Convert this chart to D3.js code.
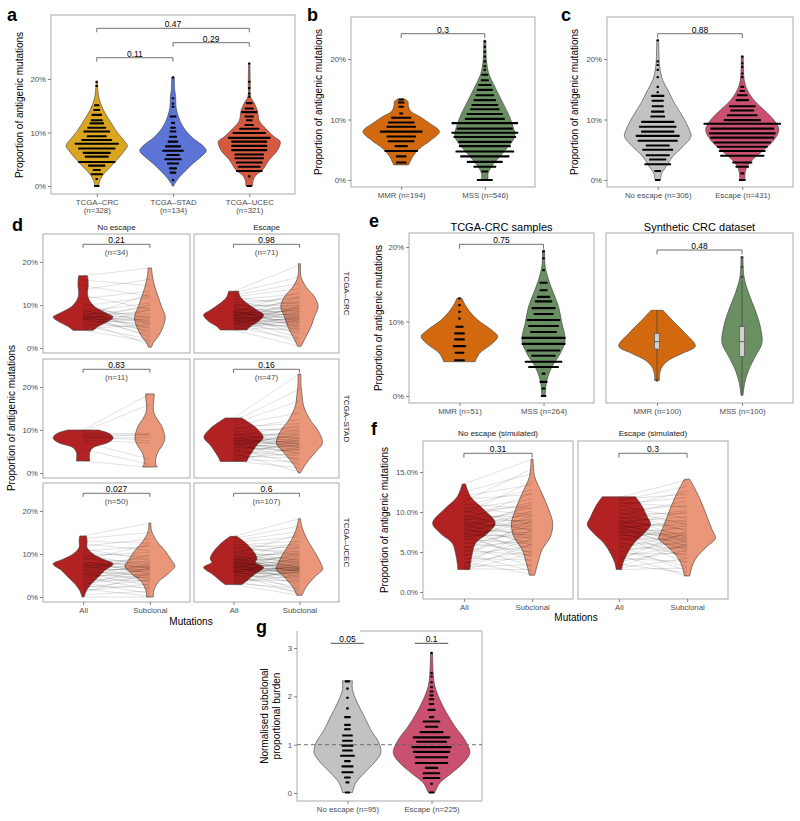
<!DOCTYPE html>
<html><head><meta charset="utf-8">
<script src="https://cdn.jsdelivr.net/npm/d3@7"></script>
<style>body{margin:0;background:#fff}</style>
</head><body><svg id="c" width="800" height="821"></svg>
<script>
// ================= DATA =================
// Panel a
const aCats = ["TCGA–CRC","TCGA–STAD","TCGA–UCEC"];
const aN = [328,134,321];
const aViolinCRC = [[19.4,0.02],[17.5,0.04],[16.1,0.08],[14.2,0.20],[12.3,0.38],[10.0,0.62],[8.5,0.82],[7.5,0.92],[6.5,0.82],[5.0,0.62],[3.5,0.40],[2.0,0.18],[0.8,0.08],[0,0.06]];
const aViolinSTAD = [[20.3,0.04],[18,0.05],[16.7,0.08],[14.8,0.09],[13.0,0.16],[11.1,0.30],[9.2,0.55],[7.4,0.92],[6.6,1.0],[5.5,0.85],[4.2,0.60],[3.0,0.40],[1.5,0.17],[0.4,0.05],[0,0.02]];
const aViolinUCEC = [[22.9,0.02],[19.2,0.03],[16.7,0.04],[15.5,0.15],[14.0,0.25],[12.2,0.30],[10.7,0.50],[9.2,0.75],[8.3,0.93],[6.7,0.85],[4.9,0.60],[3.0,0.40],[2.0,0.20],[1.1,0.12],[0,0.10]];
const aDotsCRC = [[19.5,1],[18.7,1],[15.1,4],[14.2,5],[13.3,8],[12.3,9],[11.7,11],[10.9,14],[10.2,20],[9.3,15],[8.6,23],[7.9,33],[7.0,28],[6.2,21],[5.5,18],[4.5,28],[3.8,13],[3.0,6],[2.2,9],[1.3,1],[0,4]];
const aDotsSTAD = [[20.3,1],[16.4,1],[15.4,1],[14.8,1],[13.0,5],[11.8,3],[10.9,4],[10.2,5],[9.2,6],[8.3,8],[7.4,12],[6.6,16],[5.8,10],[5.0,13],[4.2,9],[3.3,6],[2.5,5],[1.1,1]];
const aDotsUCEC = [[22.9,1],[19.5,1],[18.3,1],[17.3,1],[16.7,1],[15.5,5],[14.5,7],[13.8,12],[13.0,7],[12.3,5],[11.4,7],[10.7,15],[9.9,25],[9.0,32],[8.3,27],[7.5,27],[6.7,27],[5.9,22],[5.2,22],[4.4,20],[3.6,17],[2.8,20],[1.8,2],[0,4]];
const aPvals = [["TCGA–CRC","TCGA–UCEC","0.47"],["TCGA–STAD","TCGA–UCEC","0.29"],["TCGA–CRC","TCGA–STAD","0.11"]];
const pctTicks = [0,10,20];

// Panel b
const bCats = ["MMR","MSS"];
const bN = [194,546];
const bViolinMMR = [[13.4,0.10],[13.0,0.20],[12.1,0.22],[11.3,0.30],[10.5,0.55],[9.4,0.85],[8.0,1.15],[6.6,0.90],[5.2,0.55],[3.9,0.35],[2.8,0.25],[2.5,0.22]];
const bViolinMSS = [[23.1,0.03],[19.8,0.05],[17.6,0.12],[15.4,0.30],[13.2,0.50],[11.0,0.70],[8.8,0.85],[7.2,0.90],[5.5,0.70],[3.9,0.45],[2.2,0.20],[1.1,0.10],[0,0.10]];
const bDotsMMR = [[13.3,4],[12.8,5],[12.1,4],[11.0,3],[10.3,15],[9.5,20],[8.8,22],[8.0,32],[7.2,22],[6.4,20],[5.6,10],[4.8,25],[3.9,8],[2.9,8]];
const bDotsMSS = [[22.9,1],[22.0,1],[21.2,1],[20.4,1],[19.6,2],[18.8,2],[18.2,2],[17.4,5],[16.5,6],[15.7,10],[14.9,12],[14.0,14],[13.2,17],[12.4,20],[11.7,22],[10.9,27],[10.1,30],[9.4,50],[8.5,42],[7.8,50],[7.1,47],[6.3,40],[5.6,39],[4.7,44],[3.9,37],[3.0,27],[2.2,17],[1.4,5],[0,12]];
const bPval = "0.3";

// Panel c
const cCats = ["No escape","Escape"];
const cN = [306,431];
const cViolinNo = [[23.1,0.03],[18.7,0.06],[16.5,0.15],[14.9,0.30],[12.7,0.50],[10.5,0.75],[8.3,0.95],[7.2,1.00],[5.5,0.75],[3.9,0.45],[2.2,0.25],[1.1,0.12],[0,0.08]];
const cViolinEsc = [[20.5,0.03],[16.5,0.06],[14.9,0.15],[13.2,0.35],[11.6,0.65],[9.9,0.95],[8.3,1.10],[6.6,0.95],[5.0,0.65],[3.3,0.30],[1.9,0.12],[0.8,0.08],[0,0.08]];
const cDotsNo = [[23.1,1],[19.6,1],[19.0,1],[18.2,1],[17.0,1],[15.4,1],[14.5,1],[13.9,10],[13.1,9],[12.2,9],[11.3,10],[10.5,11],[9.6,25],[8.8,28],[8.0,25],[7.3,33],[6.5,30],[5.7,18],[5.0,23],[4.1,18],[3.4,13],[2.6,20],[1.5,5],[0,4]];
const cDotsEsc = [[20.4,1],[19.3,1],[18.7,1],[17.6,1],[17.0,1],[15.4,3],[14.7,4],[14.0,8],[13.2,10],[12.2,20],[11.5,18],[10.7,23],[9.9,28],[9.3,58],[8.5,48],[7.7,50],[7.0,48],[6.2,43],[5.5,38],[4.8,35],[4.0,33],[2.9,15],[2.2,10],[1.1,3],[0,5]];
const cPval = "0.88";

// Panel d (rows: cancer type, cols: escape status)
const dCols = ["No escape","Escape"];
const dRows = ["TCGA–CRC","TCGA–STAD","TCGA–UCEC"];
const dCats = ["All","Subclonal"];
const dPvals = [["0.21","0.98"],["0.83","0.16"],["0.027","0.6"]];
const dNs = [[34,71],[11,47],[50,107]];
const dViolinAll11 = [[16.8,0.13],[15.8,0.15],[14.2,0.15],[12.7,0.13],[11.2,0.18],[9.6,0.35],[8.1,0.70],[7.2,0.90],[6.2,0.75],[5.0,0.45],[4.1,0.30]];
const dViolinSub11 = [[18.6,0.05],[16.5,0.08],[14.2,0.15],[11.9,0.25],[9.6,0.35],[7.3,0.46],[5.0,0.40],[2.7,0.25],[1.2,0.10],[0.2,0.05]];
const dViolinAll12 = [[13.2,0.15],[11.9,0.20],[10.4,0.40],[8.8,0.70],[7.7,0.90],[6.2,0.75],[5.0,0.50],[4.2,0.40]];
const dViolinSub12 = [[19.6,0.03],[16.5,0.05],[14.2,0.20],[11.9,0.45],[9.6,0.56],[7.3,0.45],[5.0,0.35],[2.7,0.20],[0.4,0.05]];
const dViolinAll21 = [[10.0,0.45],[9.1,0.80],[8.1,0.90],[7.1,0.75],[5.9,0.30],[4.8,0.20],[2.8,0.20]];
const dViolinSub21 = [[18.4,0.13],[17.0,0.12],[15.5,0.10],[14,0.12],[12.5,0.22],[11,0.35],[9.5,0.42],[8.0,0.45],[6.5,0.38],[5.0,0.25],[3.5,0.18],[2.0,0.18],[1.4,0.22]];
const dViolinAll22 = [[12.8,0.25],[11.8,0.45],[10.2,0.72],[8.3,0.89],[6.5,0.70],[5.2,0.58],[3.6,0.45],[2.7,0.40]];
const dViolinSub22 = [[23.0,0.04],[20.0,0.05],[18.0,0.08],[16.5,0.10],[15.0,0.15],[12.0,0.35],[10.0,0.55],[7.0,0.69],[5.0,0.50],[3.0,0.28],[1.0,0.10],[0,0.03]];
const dViolinAll31 = [[14.2,0.10],[13.1,0.12],[11.5,0.12],[10.0,0.30],[8.8,0.60],[7.7,0.90],[6.2,0.65],[4.6,0.45],[3.1,0.25],[1.5,0.10],[0,0.03]];
const dViolinSub31 = [[17.2,0.03],[15.4,0.05],[13.1,0.20],[10.8,0.45],[8.5,0.65],[7.2,0.75],[5.4,0.55],[3.5,0.25],[1.5,0.12],[0,0.10]];
const dViolinAll32 = [[14.1,0.10],[12.3,0.40],[10.0,0.65],[8.8,0.70],[8.1,0.65],[6.9,0.90],[5.4,0.65],[3.8,0.40],[2.9,0.25]];
const dViolinSub32 = [[18.2,0.03],[16.2,0.08],[13.1,0.25],[10.0,0.50],[7.7,0.65],[6.5,0.70],[4.6,0.45],[2.3,0.20],[0.4,0.08]];
const dPairs11 = [[16.8,18.6],[15.8,14.5],[14.5,12.0],[13.5,16.0],[12.3,9.0],[11.5,13.2],[10.4,5.5],[9.8,11.8],[9.4,7.0],[9.0,3.5],[8.7,6.2],[8.4,10.5],[8.2,4.5],[8.0,8.0],[7.8,2.5],[7.6,9.5],[7.5,6.0],[7.3,12.5],[7.2,5.0],[7.1,7.5],[7.0,3.0],[6.9,8.8],[6.8,6.5],[6.7,4.0],[6.6,10.0],[6.5,7.2],[6.3,5.8],[6.1,0.8],[5.8,6.8],[5.5,4.8],[5.2,2.0],[4.8,9.0],[4.4,5.5],[4.1,1.5]];
const dPairs12 = [[13.2,19.3],[12.8,16.5],[12.3,15.0],[11.9,13.8],[11.6,10.2],[11.2,12.6],[10.9,8.4],[10.6,11.5],[10.3,7.0],[10.0,9.8],[9.8,12.0],[9.6,6.2],[9.4,10.6],[9.2,8.0],[9.0,4.8],[8.8,9.2],[8.7,11.0],[8.5,7.5],[8.4,5.6],[8.3,13.0],[8.2,8.6],[8.1,6.8],[8.0,10.0],[7.9,3.2],[7.8,7.8],[7.7,9.5],[7.6,6.0],[7.5,8.9],[7.4,5.2],[7.3,11.8],[7.2,7.2],[7.1,4.2],[7.0,9.0],[6.9,6.5],[6.8,2.4],[6.7,8.2],[6.6,10.8],[6.5,5.8],[6.4,7.6],[6.3,4.6],[6.2,9.4],[6.1,6.8],[6.0,1.2],[5.9,5.0],[5.8,8.4],[5.6,7.0],[5.5,3.8],[5.3,6.2],[5.2,9.8],[5.0,5.4],[4.9,2.0],[4.7,7.4],[4.5,4.4],[4.4,6.6],[4.2,0.4]];
const dPairs21 = [[10.0,18.4],[9.6,16.0],[9.2,9.2],[8.9,8.8],[8.6,7.5],[8.3,9.0],[8.0,8.3],[7.6,7.0],[7.2,3.2],[5.5,2.0],[2.8,1.3]];
const dPairs22 = [[12.8,23.0],[12.0,19.5],[11.5,16.8],[11.1,14.0],[10.7,11.5],[10.4,9.8],[10.1,12.5],[9.8,8.0],[9.5,10.6],[9.2,6.5],[9.0,9.0],[8.8,7.4],[8.6,11.0],[8.4,5.8],[8.2,8.4],[8.0,7.0],[7.9,9.6],[7.8,6.2],[7.6,4.4],[7.5,8.0],[7.4,7.2],[7.2,10.2],[7.1,5.4],[7.0,6.8],[6.9,3.0],[6.8,8.8],[6.6,6.0],[6.5,7.6],[6.3,4.8],[6.2,9.2],[6.0,5.2],[5.8,7.0],[5.6,2.0],[5.4,6.4],[5.2,8.2],[5.0,4.0],[4.8,6.6],[4.6,0.2],[4.3,5.6],[4.0,3.4],[3.7,7.8],[3.4,4.6],[3.1,2.6],[2.9,6.0],[2.8,1.2]];
const dPairs31 = [[14.2,17.2],[13.6,15.0],[13.0,12.5],[12.4,10.8],[11.8,13.5],[11.2,8.6],[10.7,11.8],[10.2,9.4],[9.8,7.2],[9.5,10.4],[9.2,6.6],[8.9,8.0],[8.6,12.2],[8.3,5.4],[8.0,7.0],[7.8,9.0],[7.6,6.2],[7.5,7.8],[7.4,4.2],[7.3,6.8],[7.2,8.4],[7.0,5.8],[6.8,7.2],[6.6,3.4],[6.4,6.4],[6.2,9.8],[6.0,5.0],[5.8,7.0],[5.6,2.6],[5.4,6.0],[5.2,4.4],[5.0,7.6],[4.8,5.4],[4.6,1.8],[4.3,6.6],[4.0,3.8],[3.7,5.2],[3.4,0.8],[3.1,4.8],[2.8,6.8],[2.5,2.2],[2.2,4.0],[1.9,0.2],[1.5,3.0],[1.0,5.6],[0.5,1.4],[0.0,0.0]];
const dPairs32 = [[14.1,18.2],[13.6,16.5],[13.1,15.2],[12.7,14.0],[12.3,11.2],[12.0,13.0],[11.7,9.8],[11.4,12.2],[11.1,10.6],[10.8,8.4],[10.6,11.8],[10.4,7.6],[10.2,9.6],[10.0,14.6],[9.8,6.8],[9.6,10.2],[9.5,8.0],[9.3,5.6],[9.2,9.0],[9.0,7.2],[8.9,12.8],[8.8,6.4],[8.7,8.6],[8.6,10.8],[8.5,4.6],[8.4,7.0],[8.3,9.4],[8.2,6.0],[8.1,11.6],[8.0,6.8],[7.9,3.6],[7.8,8.2],[7.7,6.6],[7.6,9.8],[7.5,5.2],[7.4,7.4],[7.3,2.8],[7.2,6.2],[7.1,8.8],[7.0,6.4],[6.9,4.2],[6.8,7.8],[6.7,6.0],[6.6,10.4],[6.5,5.6],[6.4,1.6],[6.3,6.8],[6.2,7.0],[6.1,4.8],[6.0,8.4],[5.9,6.2],[5.8,3.2],[5.7,6.6],[5.6,9.2],[5.5,5.4],[5.3,0.8],[5.2,7.2],[5.0,4.4],[4.8,6.4],[4.6,2.4],[4.4,5.8],[4.2,8.0],[4.0,3.8],[3.8,6.0],[3.6,1.2],[3.4,5.0],[3.2,2.0],[3.0,6.6],[2.9,0.4]];

// Panel e
const eFacets = ["TCGA-CRC samples","Synthetic CRC dataset"];
const eCats = ["MMR","MSS"];
const eLabels = [["MMR (n=51)","MSS (n=264)"],["MMR (n=100)","MSS  (n=100)"]];
const ePvals = ["0.75","0.48"];
const eViolinMMR1 = [[13.1,0.08],[12.4,0.15],[11.5,0.28],[10.2,0.55],[8.9,0.95],[8.0,1.15],[7.1,1.00],[5.7,0.60],[4.6,0.47]];
const eViolinMSS1 = [[19.6,0.03],[17.4,0.05],[15.6,0.15],[13.8,0.30],[12.0,0.45],[9.8,0.55],[7.5,0.65],[5.7,0.50],[3.9,0.25],[2.1,0.10],[0.1,0.05]];
const eDotsMMR1 = [[13.1,2],[12.2,2],[11.3,2],[10.4,2],[9.3,6],[8.4,8],[7.6,8],[6.7,10],[5.8,7],[4.8,8]];
const eDotsMSS1 = [[19.4,2],[18.5,2],[16.9,2],[15.2,6],[14.2,6],[13.3,10],[12.7,13],[11.8,18],[11.0,15],[10.2,25],[9.4,23],[8.6,20],[7.8,33],[7.0,33],[6.1,25],[5.4,18],[4.6,28],[3.9,23],[3.0,3],[1.9,6],[1.0,3],[0,4]];
const eViolinMMR2 = [[11.5,0.18],[10.2,0.45],[8.4,0.85],[6.7,1.15],[5.7,0.75],[4.8,0.35],[3.9,0.15],[3.0,0.08],[2.1,0.07]];
const eViolinMSS2 = [[18.7,0.03],[16.0,0.06],[13.8,0.20],[11.5,0.40],[9.3,0.55],[7.1,0.60],[5.3,0.40],[3.5,0.20],[1.7,0.08],[0.1,0.03]];
// boxplot stats: [lowWhisker, q1, median, q3, highWhisker]
const eBoxMMR2 = [2.3,6.3,7.3,8.4,11.5];
const eBoxMSS2 = [0.1,5.3,7.3,9.3,15.5];
const eOutMMR2 = [2.1];
const eOutMSS2 = [16.0,17.3,18.6];

// Panel f
const fFacets = ["No escape (simulated)","Escape (simulated)"];
const fCats = ["All","Subclonal"];
const fPvals = ["0.31","0.3"];
const fTicks = [0,5,10,15];
const fViolinAll1 = [[13.5,0.05],[11.9,0.20],[10.3,0.60],[8.6,0.94],[7.3,0.70],[6.1,0.35],[4.8,0.25],[3.6,0.20],[2.8,0.18]];
const fViolinSub1 = [[16.6,0.03],[14.4,0.08],[12.3,0.30],[10.3,0.50],[8.6,0.62],[6.9,0.55],[5.3,0.30],[4.0,0.20],[2.8,0.12],[2.1,0.08]];
const fViolinAll2 = [[11.9,0.50],[10.7,0.70],[9.4,0.85],[8.4,0.95],[7.3,0.75],[6.1,0.45],[4.8,0.25],[3.6,0.12],[2.8,0.08]];
const fViolinSub2 = [[14.1,0.08],[13.2,0.20],[11.5,0.40],[9.4,0.60],[7.8,0.75],[6.7,0.85],[5.7,0.60],[4.4,0.30],[3.2,0.15],[2.0,0.08]];
const fPairs1 = [[13.5,16.6],[12.5,14.8],[12.0,13.4],[11.6,12.2],[11.3,15.4],[11.0,10.4],[10.8,12.8],[10.6,9.6],[10.4,11.6],[10.2,8.4],[10.0,10.8],[9.8,13.8],[9.6,7.6],[9.5,9.4],[9.4,11.2],[9.2,8.8],[9.1,6.6],[9.0,10.0],[8.9,12.4],[8.8,7.8],[8.7,9.0],[8.6,5.8],[8.5,8.2],[8.4,10.6],[8.3,7.0],[8.2,9.8],[8.1,4.8],[8.0,8.6],[7.9,6.2],[7.8,11.0],[7.7,7.4],[7.6,9.2],[7.5,5.4],[7.4,8.0],[7.3,3.8],[7.2,6.8],[7.1,10.2],[7.0,7.2],[6.9,4.4],[6.8,8.8],[6.6,6.0],[6.4,9.6],[6.2,5.0],[6.0,7.6],[5.8,3.2],[5.6,6.4],[5.4,8.4],[5.2,4.6],[5.0,7.0],[4.8,2.6],[4.6,5.8],[4.4,9.0],[4.2,4.0],[4.0,6.6],[3.8,2.2],[3.6,5.2],[3.4,7.8],[3.2,3.4],[3.0,6.0],[2.9,2.8],[2.8,4.8]];
const fPairs2 = [[11.8,14.0],[11.6,12.2],[11.4,13.2],[11.2,10.6],[11.0,11.8],[10.8,9.2],[10.6,12.6],[10.4,8.4],[10.2,10.8],[10.0,7.6],[9.8,9.8],[9.6,11.4],[9.4,6.8],[9.3,8.8],[9.2,10.2],[9.0,6.2],[8.9,7.8],[8.8,9.4],[8.7,5.6],[8.6,8.2],[8.5,10.0],[8.4,6.6],[8.3,7.2],[8.2,5.2],[8.1,8.6],[8.0,6.4],[7.9,9.0],[7.8,5.8],[7.7,7.0],[7.6,4.2],[7.5,6.8],[7.4,8.0],[7.3,5.4],[7.2,6.2],[7.1,3.6],[7.0,7.4],[6.8,5.0],[6.6,6.6],[6.4,8.4],[6.2,4.6],[6.0,6.0],[5.8,2.6],[5.6,7.2],[5.4,5.6],[5.2,3.2],[5.0,6.4],[4.8,4.8],[4.6,2.0],[4.4,5.8],[4.2,3.8],[4.0,7.6],[3.8,5.2],[3.5,2.4],[3.2,6.0],[3.0,4.2],[2.8,3.0]];

// Panel g
const gCats = ["No escape","Escape"];
const gN = [95,225];
const gPvals = ["0.05","0.1"];
const gTicks = [0,1,2,3];
const gViolinNo = [[2.32,0.15],[2.14,0.15],[1.86,0.30],[1.59,0.50],[1.31,0.70],[1.03,0.95],[0.83,1.00],[0.62,0.80],[0.41,0.50],[0.21,0.25],[0.01,0.15]];
const gViolinEsc = [[2.9,0.03],[2.48,0.05],[2.21,0.10],[1.93,0.25],[1.66,0.45],[1.38,0.70],[1.10,1.00],[0.83,1.15],[0.62,0.95],[0.41,0.60],[0.21,0.25],[0.01,0.10]];
const gDotsNo = [[2.31,4],[2.16,2],[1.97,2],[1.75,2],[1.57,5],[1.41,5],[1.32,5],[1.19,8],[1.08,8],[0.98,9],[0.88,8],[0.77,11],[0.66,5],[0.55,9],[0.43,9],[0.32,5],[0.22,3],[0.01,4]];
const gDotsEsc = [[2.9,1],[2.48,1],[2.41,1],[2.29,1],[2.19,2],[2.10,3],[2.02,3],[1.94,4],[1.84,4],[1.72,6],[1.57,4],[1.48,13],[1.37,10],[1.26,18],[1.15,28],[1.06,23],[0.95,30],[0.85,28],[0.74,25],[0.62,25],[0.52,10],[0.41,13],[0.31,13],[0.19,2],[0.01,4]];
const gRef = 1;

// ================= DRAWING =================
const svg = d3.select('#c');
const FONT = "'Liberation Sans', Arial, Helvetica, sans-serif";
const BORDER = '#a9a9a9';
const W = d3.scaleLinear().domain([0,1]).range([0,33.3]);
const DOT = 4/3;
const BAR_H = 2.1;
const COL = {gold:'#DAA520', blue:'#5B74D6', red:'#D65A40', orange:'#D2690F', green:'#6A8F62',
  grey:'#C2C2C2', pink:'#C9506F', dark:'#B22222', salmon:'#EA9678'};
const pct = d => d + '%';

function styleAxis(g, size){
  g.select('.domain').remove();
  g.selectAll('.tick line').attr('stroke','#555').attr('stroke-width',0.7);
  g.selectAll('.tick text').attr('font-family',FONT).attr('font-size',size||7.8).attr('fill','#4d4d4d');
}
function yAxis(sc, x0, ticks, fmt, show){
  const ax = d3.axisLeft(sc).tickValues(ticks).tickSize(3).tickPadding(2).tickFormat(show===false?()=>'':fmt);
  const g = svg.append('g').attr('transform',`translate(${x0},0)`).call(ax);
  styleAxis(g);
  return g;
}
function xAxis(sc, y1, fmt){
  const ax = d3.axisBottom(sc).tickSize(3).tickPadding(2).tickFormat(fmt);
  const g = svg.append('g').attr('transform',`translate(0,${y1})`).call(ax);
  styleAxis(g);
  return g;
}
function frame(x0,y0,x1,y1){
  svg.append('rect').attr('x',x0).attr('y',y0).attr('width',x1-x0).attr('height',y1-y0)
    .attr('fill','none').attr('stroke',BORDER).attr('stroke-width',1);
}
function violin(prof, cx, ys, fill){
  const area = d3.area().curve(d3.curveCatmullRom.alpha(0.5))
    .y(d=>ys(d[0])).x0(d=>cx-W(d[1])).x1(d=>cx+W(d[1]));
  svg.append('path').attr('d',area(prof)).attr('fill',fill).attr('stroke','#3a3a3a').attr('stroke-width',0.6);
}
function dots(bins, cx, ys){
  svg.append('g').selectAll('rect').data(bins).join('rect')
    .attr('x',d=>cx-Math.max(d[1]*DOT,2.4)/2).attr('y',d=>ys(d[0])-BAR_H/2)
    .attr('width',d=>Math.max(d[1]*DOT,2.4)).attr('height',BAR_H).attr('rx',0.6).attr('fill','#000');
}
function pairs(list, xa, xs, ys){
  svg.append('g').selectAll('line').data(list).join('line')
    .attr('x1',xa).attr('x2',xs).attr('y1',d=>ys(d[0])).attr('y2',d=>ys(d[1]))
    .attr('stroke','#000').attr('stroke-opacity',0.2).attr('stroke-width',0.6);
}
function text(x,y,s,opt){
  opt = opt||{};
  const t = svg.append('text').attr('x',x).attr('y',y).text(s)
    .attr('font-family',FONT).attr('font-size',opt.size||8).attr('fill',opt.fill||'#000')
    .attr('text-anchor',opt.anchor||'middle').attr('font-weight',opt.weight||'normal');
  if(opt.rotate!==undefined) t.attr('transform',`rotate(${opt.rotate},${x},${y})`);
  return t;
}
function bracket(x1,x2,y,drop,label,sub){
  svg.append('path').attr('d',`M${x1},${y+drop}V${y}H${x2}V${y+drop}`)
    .attr('fill','none').attr('stroke','#333').attr('stroke-width',0.7);
  text((x1+x2)/2, y-1.2, label, {size:8.5});
  if(sub) text((x1+x2)/2, y+10.5, sub, {size:8, fill:'#4d4d4d'});
}
function ytitle(x,y,s){ text(x,y,s,{size:10,rotate:-90}); }
function panelLetter(x,y,s){ text(x,y,s,{size:18,weight:'bold',anchor:'start'}); }

// ---- Panel a ----
{
  const x = d3.scalePoint().domain(aCats).range([51,295]).padding(0.6);
  const y = d3.scaleLinear().domain([0,20]).range([186,79]);
  frame(51,15,295,194);
  const fills=[COL.gold,COL.blue,COL.red];
  [aViolinCRC,aViolinSTAD,aViolinUCEC].forEach((p,i)=>violin(p,x(aCats[i]),y,fills[i]));
  [aDotsCRC,aDotsSTAD,aDotsUCEC].forEach((p,i)=>dots(p,x(aCats[i]),y));
  const bys=[28.3,42.7,57.7];
  aPvals.forEach((p,i)=>bracket(x(p[0]),x(p[1]),bys[i],4,p[2]));
  yAxis(y,51,pctTicks,pct);
  const g = xAxis(x,194,d=>d);
  g.selectAll('.tick text').each(function(d,i){
    const t=d3.select(this); t.text(null);
    t.append('tspan').attr('x',0).attr('dy','0.71em').text(d);
    t.append('tspan').attr('x',0).attr('dy','1.05em').text(`(n=${aN[i]})`);
  });
  ytitle(23,105,'Proportion of antigenic mutations');
  panelLetter(7,21,'a');
}

// ---- Panel b ----
{
  const x = d3.scalePoint().domain(bCats).range([351,535]).padding(0.6);
  const y = d3.scaleLinear().domain([0,20]).range([180,59]);
  frame(351,17,535,187);
  violin(bViolinMMR,x('MMR'),y,COL.orange);
  violin(bViolinMSS,x('MSS'),y,COL.green);
  dots(bDotsMMR,x('MMR'),y); dots(bDotsMSS,x('MSS'),y);
  bracket(x('MMR'),x('MSS'),33.7,4.5,bPval);
  yAxis(y,351,pctTicks,pct);
  xAxis(x,187,(d,i)=>`${d} (n=${bN[i]})`);
  ytitle(322,102,'Proportion of antigenic mutations');
  panelLetter(307,21,'b');
}

// ---- Panel c ----
{
  const x = d3.scalePoint().domain(cCats).range([607,793]).padding(0.6);
  const y = d3.scaleLinear().domain([0,20]).range([180,59]);
  frame(607,17,793,187);
  violin(cViolinNo,x('No escape'),y,COL.grey);
  violin(cViolinEsc,x('Escape'),y,COL.pink);
  dots(cDotsNo,x('No escape'),y); dots(cDotsEsc,x('Escape'),y);
  bracket(x('No escape'),x('Escape'),33.7,4.5,cPval);
  yAxis(y,607,pctTicks,pct);
  xAxis(x,187,(d,i)=>`${d} (n=${cN[i]})`);
  ytitle(578,102,'Proportion of antigenic mutations');
  panelLetter(561,21,'c');
}

// ---- Panel d ----
{
  const colX = [[43,190],[194,339]];
  const rowTop = [234,359,483];
  const rowH = 119;
  const violinsAll = [[dViolinAll11,dViolinAll12],[dViolinAll21,dViolinAll22],[dViolinAll31,dViolinAll32]];
  const violinsSub = [[dViolinSub11,dViolinSub12],[dViolinSub21,dViolinSub22],[dViolinSub31,dViolinSub32]];
  const pr = [[dPairs11,dPairs12],[dPairs21,dPairs22],[dPairs31,dPairs32]];
  rowTop.forEach((top,r)=>{
    const y = d3.scaleLinear().domain([0,20]).range([top+114,top+28]);
    colX.forEach(([x0,x1],c)=>{
      const x = d3.scalePoint().domain(dCats).range([x0,x1]).padding(0.6);
      frame(x0,top,x1,top+rowH);
      violin(violinsAll[r][c],x('All'),y,COL.dark);
      violin(violinsSub[r][c],x('Subclonal'),y,COL.salmon);
      pairs(pr[r][c],x('All'),x('Subclonal'),y);
      bracket(x('All'),x('Subclonal'),top+10.3,3.5,dPvals[r][c],`(n=${dNs[r][c]})`);
      if(c===0) yAxis(y,x0,pctTicks,pct);
      if(r===2) xAxis(x,top+rowH,d=>d);
    });
    text(347,top+rowH/2,dRows[r],{size:8,fill:'#1a1a1a',rotate:90}).attr('dy','0.35em');
  });
  dCols.forEach((s,c)=>text((colX[c][0]+colX[c][1])/2,229.5,s,{size:8,fill:'#1a1a1a'}));
  text(191,625,'Mutations',{size:10});
  ytitle(15,418,'Proportion of antigenic mutations');
  panelLetter(12,231,'d');
}

// ---- Panel e ----
{
  const colX = [[409,594],[606,793]];
  const y = d3.scaleLinear().domain([0,20]).range([396,247]);
  colX.forEach(([x0,x1],c)=>{
    const x = d3.scalePoint().domain(eCats).range([x0,x1]).padding(0.6);
    frame(x0,233,x1,403);
    text((x0+x1)/2,231,eFacets[c],{size:11});
    if(c===0){
      violin(eViolinMMR1,x('MMR'),y,COL.orange);
      violin(eViolinMSS1,x('MSS'),y,COL.green);
      dots(eDotsMMR1,x('MMR'),y); dots(eDotsMSS1,x('MSS'),y);
      bracket(x('MMR'),x('MSS'),244.3,4.5,ePvals[0]);
      yAxis(y,x0,pctTicks,pct);
    } else {
      violin(eViolinMMR2,x('MMR'),y,COL.orange);
      violin(eViolinMSS2,x('MSS'),y,COL.green);
      [[eBoxMMR2,eOutMMR2,'MMR'],[eBoxMSS2,eOutMSS2,'MSS']].forEach(([b,o,k])=>{
        const cx=x(k);
        svg.append('line').attr('x1',cx).attr('x2',cx).attr('y1',y(b[0])).attr('y2',y(b[4])).attr('stroke','#444').attr('stroke-width',0.7);
        svg.append('rect').attr('x',cx-2.6).attr('width',5.2).attr('y',y(b[3])).attr('height',y(b[1])-y(b[3]))
          .attr('fill','#d0d0d0').attr('stroke','#444').attr('stroke-width',0.6);
        svg.append('line').attr('x1',cx-2.6).attr('x2',cx+2.6).attr('y1',y(b[2])).attr('y2',y(b[2])).attr('stroke','#444').attr('stroke-width',0.8);
        o.forEach(v=>svg.append('circle').attr('cx',cx).attr('cy',y(v)).attr('r',1.4).attr('fill','#444'));
      });
      bracket(x('MMR'),x('MSS'),250,4.3,ePvals[1]);
    }
    xAxis(x,403,(d,i)=>eLabels[c][i]);
  });
  ytitle(382,318,'Proportion of antigenic mutations');
  panelLetter(369,227,'e');
}

// ---- Panel f ----
{
  const colX = [[423,573],[578,728]];
  const y = d3.scaleLinear().domain([0,15]).range([592,472]);
  const vA=[fViolinAll1,fViolinAll2], vS=[fViolinSub1,fViolinSub2], pp=[fPairs1,fPairs2];
  colX.forEach(([x0,x1],c)=>{
    const x = d3.scalePoint().domain(fCats).range([x0,x1]).padding(0.6);
    frame(x0,441,x1,599);
    text((x0+x1)/2,436,fFacets[c],{size:8,fill:'#1a1a1a'});
    violin(vA[c],x('All'),y,COL.dark);
    violin(vS[c],x('Subclonal'),y,COL.salmon);
    pairs(pp[c],x('All'),x('Subclonal'),y);
    bracket(x('All'),x('Subclonal'),453.3,4.4,fPvals[c]);
    if(c===0) yAxis(y,x0,fTicks,d=>d3.format('.1f')(d)+'%');
    xAxis(x,599,d=>d);
  });
  text(576,621,'Mutations',{size:10});
  ytitle(388,520,'Proportion of antigenic mutations');
  panelLetter(371,435,'f');
}

// ---- Panel g ----
{
  const x = d3.scalePoint().domain(gCats).range([297,482]).padding(0.6);
  const y = d3.scaleLinear().domain([0,3]).range([793,648]);
  // border (top edge partly hidden as in the original)
  svg.append('path').attr('d','M360,631H482V801H297V631').attr('fill','none').attr('stroke',BORDER).attr('stroke-width',1);
  violin(gViolinNo,x('No escape'),y,COL.grey);
  violin(gViolinEsc,x('Escape'),y,COL.pink);
  dots(gDotsNo,x('No escape'),y); dots(gDotsEsc,x('Escape'),y);
  svg.append('line').attr('x1',297).attr('x2',482).attr('y1',y(gRef)).attr('y2',y(gRef))
    .attr('stroke','#666').attr('stroke-width',0.9).attr('stroke-dasharray','4,3');
  gCats.forEach((k,i)=>{
    const cx=x(k);
    svg.append('line').attr('x1',cx-16.7).attr('x2',cx+16.7).attr('y1',643.3).attr('y2',643.3).attr('stroke','#222').attr('stroke-width',0.8);
    text(cx,641.8,gPvals[i],{size:8.5});
  });
  yAxis(y,297,gTicks,d=>d);
  xAxis(x,801,(d,i)=>`${d} (n=${gN[i]})`);
  text(268,716,'Normalised subclonal',{size:10,rotate:-90});
  text(279.5,716,'proportional burden',{size:10,rotate:-90});
  panelLetter(256,633,'g');
}
</script></body></html>
